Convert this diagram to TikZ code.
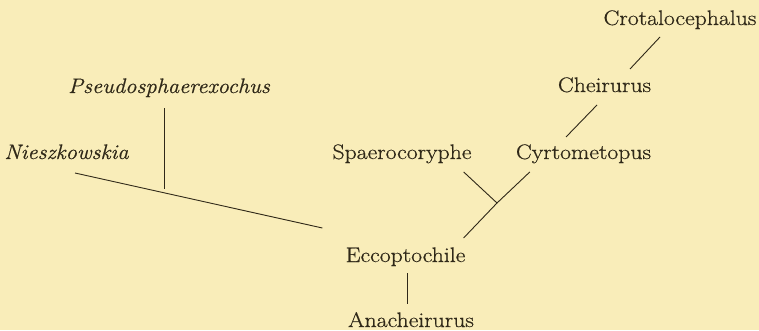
\documentclass[tikz,border=0pt]{standalone}
\usepackage{fontspec}
\setmainfont{Latin Modern Roman}[FakeStretch=1.13, FakeBold=0.6,
  ItalicFeatures={FakeStretch=1.07, FakeBold=0.6}]
\usetikzlibrary{calc}
\definecolor{paper}{HTML}{F9EDB9}
\definecolor{ink}{HTML}{2F2818}
\tikzset{
  taxon/.style={inner sep=0pt, anchor=base, text=ink,
    font=\fontsize{21}{25}\selectfont},
  taxit/.style={taxon, font=\fontsize{21}{25}\selectfont\itshape},
  link/.style={draw=ink, line width=0.9pt}
}
\begin{document}
\begin{tikzpicture}[x=1pt,y=1pt]
  \fill[paper] (0,0) rectangle (759,330);
  \useasboundingbox (0,0) rectangle (759,330);
  % taxa
  \node[taxon] (crot) at (680,305) {Crotalocephalus};
  \node[taxon] (cheir) at (604.5,238) {Cheirurus};
  \node[taxon] (spaer) at (402,171) {Spaerocoryphe};
  \node[taxon] (cyrt) at (583.5,171) {Cyrtometopus};
  \node[taxon] (eccop) at (405.5,68) {Eccoptochile};
  \node[taxon] (anach) at (411,3) {Anacheirurus};
  \node[taxit] (pseudo) at (169,237) {Pseudosphaerexochus};
  \node[taxit] (niesz) at (66.5,171) {Nieszkowskia};
  % branches
  \coordinate (vjoin) at (497,127);
  \draw[link] ($(crot.base)+(-20,-12)$) -- ($(cheir.base)+(25.5,23)$);
  \draw[link] ($(cheir.base)+(-7.5,-13)$) -- ($(cyrt.base)+(-17.5,22)$);
  \draw[link] ($(spaer.base east)+(-8,-13)$) -- (vjoin)
    -- ($(cyrt.base west)+(14,-13)$);
  \draw[link] (vjoin) -- ($(eccop.base east)+(-2,24)$);
  \draw[link] ($(eccop.base)+(1.5,-11)$) -- ($(anach.base)+(-4,23)$);
  \draw[link] ($(niesz.base)+(8.5,-14)$) -- ($(eccop.base west)+(-23,34)$);
  \draw[link] ($(pseudo.base)+(-5,-15)$) -- ++(0,-81);
\end{tikzpicture}
\end{document}
